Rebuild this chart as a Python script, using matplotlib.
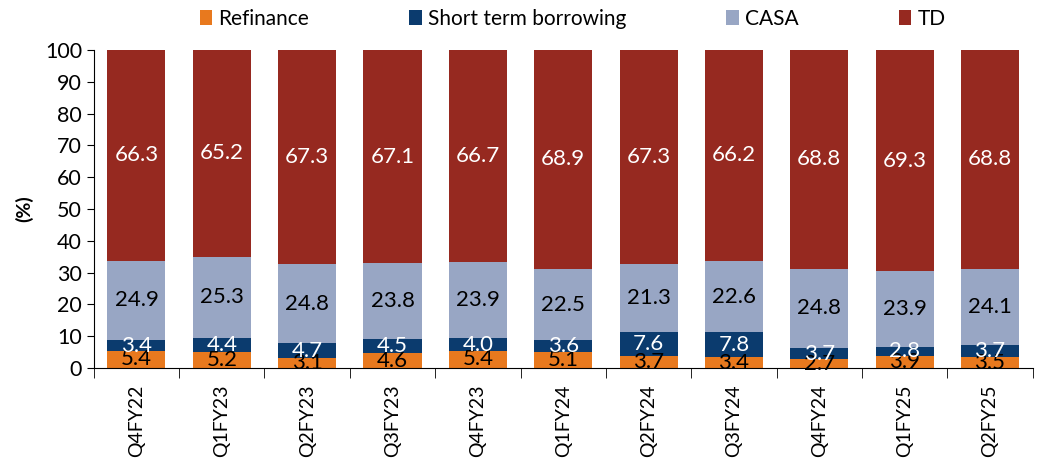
import numpy as np
import matplotlib.pyplot as plt

plt.rcParams['font.family'] = ['Lato', 'DejaVu Sans']

quarters = ['Q4FY22', 'Q1FY23', 'Q2FY23', 'Q3FY23', 'Q4FY23', 'Q1FY24',
            'Q2FY24', 'Q3FY24', 'Q4FY24', 'Q1FY25', 'Q2FY25']
refinance = [5.4, 5.2, 3.1, 4.6, 5.4, 5.1, 3.7, 3.4, 2.7, 3.9, 3.5]
short_term = [3.4, 4.4, 4.7, 4.5, 4.0, 3.6, 7.6, 7.8, 3.7, 2.8, 3.7]
casa = [24.9, 25.3, 24.8, 23.8, 23.9, 22.5, 21.3, 22.6, 24.8, 23.9, 24.1]
td = [66.3, 65.2, 67.3, 67.1, 66.7, 68.9, 67.3, 66.2, 68.8, 69.3, 68.8]

series = [
    ('Refinance', refinance, '#E8791E', 'black'),
    ('Short term borrowing', short_term, '#0B3B6E', 'white'),
    ('CASA', casa, '#98A6C4', 'black'),
    ('TD', td, '#962920', 'white'),
]

fig = plt.figure(figsize=(10.42, 4.63), dpi=100)
ax = fig.add_axes([0.090, 0.205, 0.901, 0.687])

x = np.arange(len(quarters))
bottom = np.zeros(len(quarters))
for name, vals, col, tcol in series:
    vals = np.array(vals)
    ax.bar(x, vals, 0.68, bottom=bottom, color=col, label=name, edgecolor='none')
    for xi, b, v in zip(x, bottom, vals):
        ax.text(xi, b + v / 2, f'{v:.1f}', ha='center', va='center',
                fontsize=16, color=tcol)
    bottom += vals

ax.set_xlim(-0.5, len(quarters) - 0.5)
ax.set_ylim(0, 100)
ax.set_yticks(range(0, 101, 10))
ax.tick_params(axis='y', labelsize=15.5, direction='out', length=5)
ax.set_xticks(x)
ax.set_xticklabels(quarters, rotation=90, fontsize=14)
ax.set_xticks(np.arange(-0.5, len(quarters), 1), minor=True)
ax.tick_params(axis='x', which='major', length=0, pad=12)
ax.tick_params(axis='x', which='minor', length=7, direction='out')
ax.set_ylabel('(%)', fontsize=14, fontweight='bold', labelpad=8)
for s in ['top', 'right']:
    ax.spines[s].set_visible(False)

ax.legend(loc='lower center', bbox_to_anchor=(0.51, 1.04), ncol=4, frameon=False,
          fontsize=15, handlelength=0.6, handleheight=0.7, handletextpad=0.3,
          columnspacing=4.8, borderaxespad=0)

fig.savefig('out.png', dpi=100)
